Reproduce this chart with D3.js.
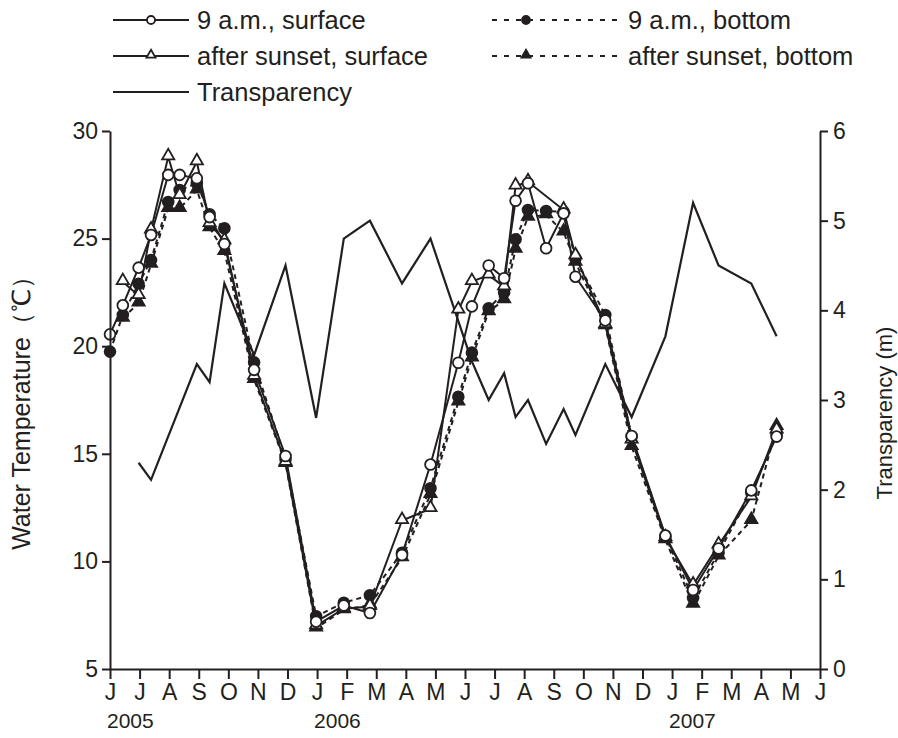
<!DOCTYPE html>
<html>
<head>
<meta charset="utf-8">
<script src="https://cdn.jsdelivr.net/npm/d3@7"></script>
<style>
  body { margin: 0; background: #fff; }
  text { font-family: "Liberation Sans", Arial, sans-serif; fill: #231f20; }
</style>
</head>
<body>
<svg id="chart" width="898" height="738"></svg>
<script>
// sampling days (x positions)
const sampleDates = [
  "2005-06-01", "2005-06-14", "2005-06-30", "2005-07-13", "2005-07-31", "2005-08-12",
  "2005-08-30", "2005-09-12", "2005-09-27", "2005-10-28", "2005-11-29", "2005-12-31",
  "2006-01-29", "2006-02-23", "2006-03-28", "2006-04-26", "2006-05-25", "2006-06-08",
  "2006-06-25", "2006-07-11", "2006-07-23", "2006-08-05", "2006-08-24", "2006-09-11",
  "2006-09-23", "2006-10-24", "2006-11-20", "2006-12-25", "2007-01-23", "2007-02-17",
  "2007-03-22", "2007-04-17"
]
const amSurface = [20.55, 21.9, 23.65, 25.17, 27.96, 27.96, 27.8, 26.0, 24.75, 18.9, 14.9, 7.2,
  7.95, 7.6, 10.3, 14.5, 19.23, 21.85, 23.75, 23.16, 26.76, 27.57, 24.55, 26.17,
  23.23, 21.2, 15.83, 11.2, 8.67, 10.6, 13.3, 15.8]
const sunsetSurface = [null, 23.0, 22.35, 25.4, 28.8, 27.0, 28.57, 25.7, 24.9, 18.6, 14.6, 7.0,
  7.8, 7.9, 11.9, 12.45, 21.68, 23.0, 23.3, 22.76, 27.44, 27.64, null, 26.33,
  24.2, 21.0, 15.64, 11.1, 8.9, 10.76, 13.0, 16.1]
const amBottom = [19.75, 21.45, 22.9, 24.0, 26.7, 27.26, 27.57, 26.13, 25.48, 19.25, 14.75, 7.45,
  8.08, 8.43, 10.4, 13.4, 17.65, 19.7, 21.76, 22.5, 24.97, 26.33, 26.28, 26.25,
  24.08, 21.45, 15.8, 11.15, 8.3, 10.4, 13.2, 15.9]
const sunsetBottom = [null, 21.3, 22.0, 23.8, 26.4, 26.4, 27.26, 25.5, 24.4, 18.45, 14.55, 6.9,
  7.75, 7.97, 10.16, 13.1, 17.4, 19.45, 21.6, 22.15, 24.5, 25.99, 26.1, 25.3,
  23.9, 20.95, 15.33, 11.0, 8.0, 10.25, 11.9, 16.26]
const transparency = [null, null, 2.3, 2.11, null, null, 3.4, 3.2, 4.3, 3.5, 4.5, 2.8,
  4.8, 5.0, 4.3, 4.8, null, 3.43, 3.0, 3.3, 2.81, 3.0, 2.51, 2.9,
  2.61, 3.4, 2.81, 3.71, 5.2, 4.5, 4.3, 3.71]

const monthLabels = ["J", "J", "A", "S", "O", "N", "D", "J", "F", "M", "A", "M",
  "J", "J", "A", "S", "O", "N", "D", "J", "F", "M", "A", "M", "J"]
const yearLabels = ["2005", "2006", "2007"]
const yearMonths = [0, 7, 19]
const tempTicks = [5, 10, 15, 20, 25, 30]
const transTicks = [0, 1, 2, 3, 4, 5, 6]

const ink = "#231f20"
const svg = d3.select("#chart")

// months since 1 June 2005, with the day as a fraction of its month
const monthPos = s => {
  const [y, m, d] = s.split("-").map(Number)
  const days = new Date(y, m, 0).getDate()
  return (y - 2005) * 12 + (m - 6) + (d - 1) / days
}
const months = sampleDates.map(monthPos)

const x = d3.scaleLinear().domain([0, 24]).range([110, 820])
const yT = d3.scaleLinear().domain([5, 30]).range([669, 131])
const yR = d3.scaleLinear().domain([0, 6]).range([669, 131])

const pts = (vals) => vals.map((v, i) => ({ m: months[i], v })).filter(d => d.v !== null)

// transparency first so it stays behind
svg.append("path")
  .datum(pts(transparency))
  .attr("fill", "none").attr("stroke", ink).attr("stroke-width", 2.2)
  .attr("d", d3.line().x(d => x(d.m)).y(d => yR(d.v)))

const series = [
  { vals: sunsetBottom, dash: "5,4", shape: "tri", fill: ink },
  { vals: amBottom, dash: "5,4", shape: "circle", fill: ink },
  { vals: sunsetSurface, dash: null, shape: "tri", fill: "#fff" },
  { vals: amSurface, dash: null, shape: "circle", fill: "#fff" }
]

const tempLine = d3.line().x(d => x(d.m)).y(d => yT(d.v))
series.forEach(s => {
  svg.append("path")
    .datum(pts(s.vals))
    .attr("fill", "none").attr("stroke", ink).attr("stroke-width", 2)
    .attr("stroke-dasharray", s.dash)
    .attr("d", tempLine)
})

const drawMarker = (g, shape, fill, cx, cy, r) => {
  if (shape === "circle") {
    g.append("circle").attr("cx", cx).attr("cy", cy).attr("r", r)
      .attr("fill", fill).attr("stroke", ink).attr("stroke-width", 1.8)
  } else {
    g.append("path").attr("d", d3.symbol(d3.symbolTriangle, r * r * 2.2)())
      .attr("transform", `translate(${cx},${cy - 1})`)
      .attr("fill", fill).attr("stroke", ink).attr("stroke-width", 1.8)
  }
}
series.forEach(s => {
  const g = svg.append("g")
  pts(s.vals).forEach(d => drawMarker(g, s.shape, s.fill, x(d.m), yT(d.v), 5.4))
})

// axes
const styleAxis = g => {
  g.select(".domain").attr("stroke", ink).attr("stroke-width", 2)
  g.selectAll(".tick line").attr("stroke", ink).attr("stroke-width", 2)
  g.selectAll("text").attr("font-size", 23).attr("fill", ink)
}
svg.append("g").attr("transform", "translate(110,0)")
  .call(d3.axisLeft(yT).tickValues(tempTicks).tickSize(8).tickPadding(4).tickSizeOuter(0))
  .call(styleAxis)
svg.append("g").attr("transform", "translate(820,0)")
  .call(d3.axisRight(yR).tickValues(transTicks).tickFormat(d3.format("d"))
    .tickSize(8).tickPadding(5).tickSizeOuter(0))
  .call(styleAxis)
svg.append("g").attr("transform", "translate(0,669)")
  .call(d3.axisBottom(x).tickValues(d3.range(25)).tickFormat((d, i) => monthLabels[i])
    .tickSize(10).tickPadding(5).tickSizeOuter(0))
  .call(styleAxis)

svg.append("g").selectAll("text").data(yearLabels).join("text")
  .attr("x", (d, i) => x(yearMonths[i]) - 3).attr("y", 728)
  .attr("font-size", 21).text(d => d)

// axis titles
svg.append("text").attr("transform", "translate(30,407) rotate(-90)")
  .attr("text-anchor", "middle").attr("font-size", 25).text("Water Temperature（℃）")
svg.append("text").attr("transform", "translate(892,413) rotate(-90)")
  .attr("text-anchor", "middle").attr("font-size", 22).text("Transparency (m)")

// legend
const legendItems = [
  { label: "9 a.m., surface", col: 0, row: 0, dash: null, shape: "circle", fill: "#fff" },
  { label: "after sunset, surface", col: 0, row: 1, dash: null, shape: "tri", fill: "#fff" },
  { label: "Transparency", col: 0, row: 2, dash: null, shape: null },
  { label: "9 a.m., bottom", col: 1, row: 0, dash: "5,7", shape: "circle", fill: ink },
  { label: "after sunset, bottom", col: 1, row: 1, dash: "5,7", shape: "tri", fill: ink }
]
const colX = [113, 492]
const colW = [76, 128]
const markOff = [38, 34]
const rowY = [20, 56, 92]
const leg = svg.append("g")
legendItems.forEach(it => {
  const x0 = colX[it.col], yy = rowY[it.row]
  leg.append("line").attr("x1", x0).attr("x2", x0 + colW[it.col]).attr("y1", yy).attr("y2", yy)
    .attr("stroke", ink).attr("stroke-width", 2).attr("stroke-dasharray", it.dash)
  if (it.shape) drawMarker(leg, it.shape, it.fill, x0 + markOff[it.col], yy, 4)
  leg.append("text").attr("x", x0 + colW[it.col] + 8).attr("y", yy + 9)
    .attr("font-size", 25.5).text(it.label)
})
</script>
</body>
</html>
